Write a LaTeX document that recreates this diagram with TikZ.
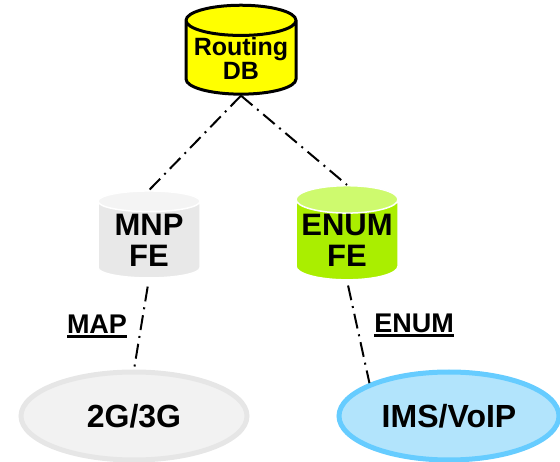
\documentclass[tikz,border=0pt]{standalone}
\usepackage{fontspec}
\setmainfont{Liberation Sans}
\usetikzlibrary{shapes.geometric}
\definecolor{dbyellow}{RGB}{255, 255, 0}
\definecolor{fegrey}{RGB}{232, 232, 232}
\definecolor{fegreytop}{RGB}{244, 244, 244}
\definecolor{felime}{RGB}{170, 238, 0}
\definecolor{felimetop}{RGB}{206, 250, 110}
\definecolor{netgrey}{RGB}{242, 242, 242}
\definecolor{netgreyline}{RGB}{230, 230, 230}
\definecolor{netblue}{RGB}{178, 228, 252}
\definecolor{netblueline}{RGB}{102, 204, 255}
\newcommand{\ulabel}[1]{\setbox0\hbox{#1}\rlap{\rule[-4.5pt]{\wd0}{3pt}}\box0}

\begin{document}
\begin{tikzpicture}[x=1pt, y=-1pt,
  db/.style={cylinder, shape border rotate=90, aspect=0.32, draw=black, line width=3pt,
    cylinder uses custom fill, cylinder body fill=dbyellow, cylinder end fill=dbyellow,
    minimum width=110pt, minimum height=84pt, inner sep=0pt, align=center,
    font=\bfseries\fontsize{25}{24}\selectfont},
  fe/.style={cylinder, shape border rotate=90, aspect=0.3, draw=white, line width=1.5pt,
    cylinder uses custom fill, minimum width=102pt, minimum height=87pt, inner sep=0pt,
    align=center, font=\bfseries\fontsize{31}{31}\selectfont},
  net/.style={ellipse, line width=5pt, minimum width=226pt, minimum height=88pt,
    font=\bfseries\fontsize{32}{32}\selectfont},
  link/.style={line width=2pt, dash pattern=on 15pt off 6pt on 2pt off 6pt},
  proto/.style={font=\bfseries\fontsize{27}{27}\selectfont}]
  \useasboundingbox (0, 0) rectangle (560, 462);

  \node[db] (db) at (241, 58) {Routing\\DB};
  \node[fe, cylinder body fill=fegrey, cylinder end fill=fegreytop] (mnp) at (149, 240) {MNP\\FE};
  \node[fe, cylinder body fill=felime, cylinder end fill=felimetop] (enum) at (347, 240) {ENUM\\FE};
  \node[net, draw=netgreyline, fill=netgrey] (g23) at (134, 416) {2G/3G};
  \node[net, draw=netblueline, fill=netblue, minimum width=220pt] (ims) at (449, 416) {IMS/VoIP};

  \draw[link] (db.south) -- (mnp.north);
  \draw[link] (db.south) -- (enum.north);
  \draw[link, shorten <=8pt] (mnp.south) -- (g23.north);
  \draw[link, shorten <=5pt] (enum.south) -- (ims.north west);

  \node[proto] (map) at (97, 326) {\ulabel{MAP}};
  \node[proto] (enumlbl) at (414, 325) {\ulabel{ENUM}};
\end{tikzpicture}
\end{document}
